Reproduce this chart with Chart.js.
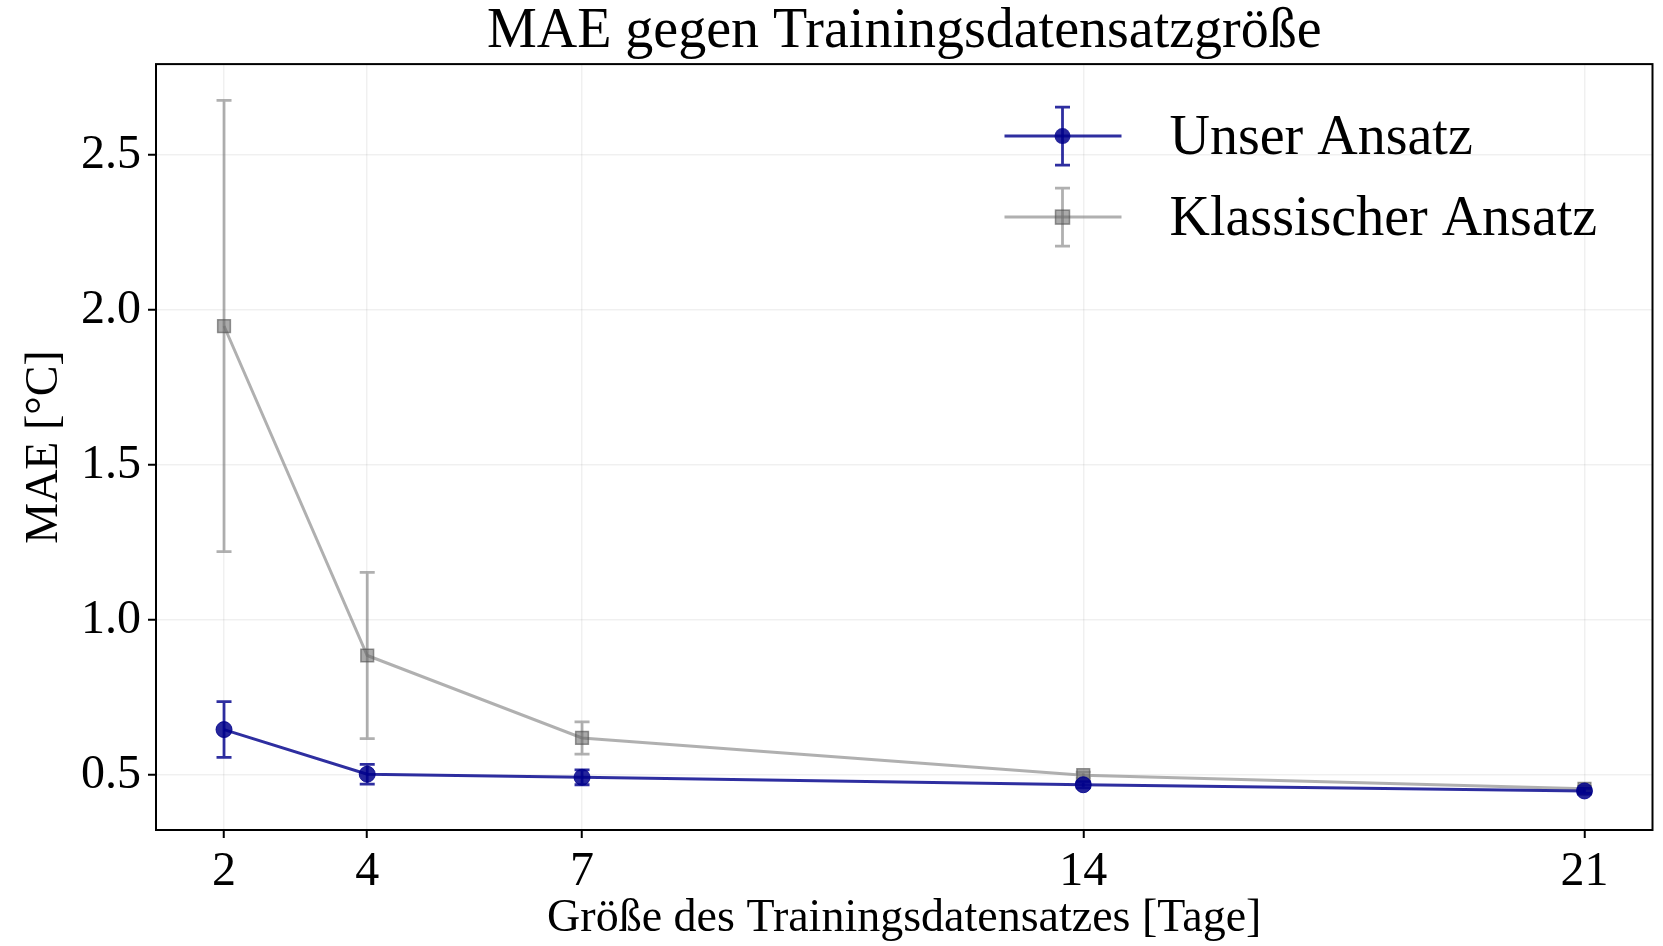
<!DOCTYPE html>
<html>
<head>
<meta charset="utf-8">
<script src="https://cdn.jsdelivr.net/npm/chart.js@4.4.1/dist/chart.umd.min.js"></script>
<style>
  html, body { margin: 0; padding: 0; background: #fff; overflow: hidden; }
  canvas { display: block; }
</style>
</head>
<body>
<canvas id="grafico" width="1663" height="946"></canvas>
<script>
// Tage im Trainingsdatensatz und MAE-Werte mit Standardabweichung
const tage = [2, 4, 7, 14, 21];
const maeUnser = [0.647, 0.503, 0.493, 0.469, 0.449];
const fehlerUnser = [0.090, 0.032, 0.024, 0.010, 0.008];
const maeKlassisch = [1.949, 0.886, 0.620, 0.500, 0.456];
const fehlerKlassisch = [0.728, 0.268, 0.052, 0.010, 0.008];
const yTicks = [0.5, 1.0, 1.5, 2.0, 2.5];

const schrift = "'Liberation Serif', 'DejaVu Serif', serif";
const blau = 'rgba(0, 0, 139, 0.82)';
const grau = 'rgba(128, 128, 128, 0.62)';

function punkte(werte) {
    return tage.map((t, i) => ({ x: t, y: werte[i] }));
}

// Fehlerbalken unter Linie und Markern zeichnen
const fehlerbalken = {
    id: 'fehlerbalken',
    beforeDatasetDraw(chart, args) {
        const ds = chart.data.datasets[args.index];
        const ctx = chart.ctx;
        const y = chart.scales.y;
        ctx.save();
        ctx.strokeStyle = ds.fehlerFarbe;
        ctx.lineWidth = 2.8;
        args.meta.data.forEach((pt, i) => {
            const wert = ds.data[i].y;
            const e = ds.fehler[i];
            const oben = y.getPixelForValue(wert + e);
            const unten = y.getPixelForValue(wert - e);
            ctx.beginPath();
            ctx.moveTo(pt.x, oben);
            ctx.lineTo(pt.x, unten);
            ctx.moveTo(pt.x - 7.5, oben);
            ctx.lineTo(pt.x + 7.5, oben);
            ctx.moveTo(pt.x - 7.5, unten);
            ctx.lineTo(pt.x + 7.5, unten);
            ctx.stroke();
        });
        ctx.restore();
    }
};

// Rahmen um den Plotbereich
const rahmen = {
    id: 'rahmen',
    afterDatasetsDraw(chart) {
        const a = chart.chartArea;
        const ctx = chart.ctx;
        ctx.save();
        ctx.strokeStyle = '#000';
        ctx.lineWidth = 2;
        ctx.strokeRect(a.left, a.top, a.right - a.left, a.bottom - a.top);
        ctx.restore();
    }
};

// Legende oben rechts mit Linie, Marker und Fehlerbalken
const legende = {
    id: 'legende',
    afterDraw(chart) {
        const ctx = chart.ctx;
        const a = chart.chartArea;
        const x0 = a.right - 648;
        const zeilen = [a.top + 72, a.top + 153];
        ctx.save();
        chart.data.datasets.forEach((ds, i) => {
            const yy = zeilen[i];
            const mx = x0 + 58;
            ctx.strokeStyle = ds.fehlerFarbe;
            ctx.lineWidth = 2.8;
            ctx.beginPath();
            ctx.moveTo(mx, yy - 29); ctx.lineTo(mx, yy + 29);
            ctx.moveTo(mx - 7.5, yy - 29); ctx.lineTo(mx + 7.5, yy - 29);
            ctx.moveTo(mx - 7.5, yy + 29); ctx.lineTo(mx + 7.5, yy + 29);
            ctx.stroke();
            ctx.strokeStyle = ds.borderColor;
            ctx.lineWidth = ds.borderWidth;
            ctx.beginPath();
            ctx.moveTo(x0, yy); ctx.lineTo(x0 + 117, yy);
            ctx.stroke();
            ctx.fillStyle = ds.pointBackgroundColor;
            ctx.strokeStyle = ds.pointBorderColor;
            ctx.lineWidth = 1.5;
            if (ds.pointStyle === 'rect') {
                ctx.fillRect(mx - 7, yy - 7, 14, 14);
                ctx.strokeRect(mx - 7, yy - 7, 14, 14);
            } else {
                ctx.beginPath();
                ctx.arc(mx, yy, 8, 0, Math.PI * 2);
                ctx.fill();
            }
            ctx.fillStyle = '#000';
            ctx.font = '56px ' + schrift;
            ctx.textBaseline = 'middle';
            ctx.fillText(ds.label, x0 + 165, yy + 3);
        });
        ctx.restore();
    }
};

new Chart(document.getElementById('grafico'), {
    type: 'line',
    data: {
        datasets: [
            {
                label: 'Unser Ansatz',
                data: punkte(maeUnser),
                fehler: fehlerUnser,
                fehlerFarbe: blau,
                borderColor: blau,
                borderWidth: 3,
                pointStyle: 'circle',
                pointRadius: 8,
                pointBackgroundColor: 'rgba(0, 0, 139, 0.85)',
                pointBorderColor: 'rgba(0, 0, 139, 0.85)',
                pointBorderWidth: 1,
                tension: 0
            },
            {
                label: 'Klassischer Ansatz',
                data: punkte(maeKlassisch),
                fehler: fehlerKlassisch,
                fehlerFarbe: grau,
                borderColor: grau,
                borderWidth: 3,
                pointStyle: 'rect',
                pointRadius: 9,
                pointBackgroundColor: 'rgba(100, 100, 100, 0.55)',
                pointBorderColor: 'rgba(80, 80, 80, 0.6)',
                pointBorderWidth: 1.5,
                tension: 0
            }
        ]
    },
    options: {
        responsive: false,
        animation: false,
        devicePixelRatio: 1,
        layout: { padding: { left: 0, right: 5, top: 0, bottom: 0 } },
        plugins: {
            legend: { display: false },
            tooltip: { enabled: false },
            title: {
                display: true,
                fullSize: false,
                text: 'MAE gegen Trainingsdatensatzgröße',
                color: '#000',
                font: { family: schrift, size: 56, weight: 'normal', lineHeight: 1.1 },
                padding: { top: 1, bottom: 1.5 }
            }
        },
        scales: {
            x: {
                type: 'linear',
                min: 1.05,
                max: 21.95,
                afterBuildTicks: (s) => { s.ticks = tage.map(v => ({ value: v })); },
                afterFit: (s) => { s.height = 116; s.paddingLeft = 0; s.paddingRight = 0; },
                ticks: {
                    color: '#000',
                    font: { family: schrift, size: 48 },
                    padding: 6,
                    maxRotation: 0,
                    autoSkip: false
                },
                grid: {
                    color: 'rgba(0, 0, 0, 0.06)',
                    lineWidth: 1.5,
                    tickColor: '#000',
                    tickLength: 8,
                    tickWidth: 2
                },
                border: { display: false },
                title: {
                    display: true,
                    text: 'Größe des Trainingsdatensatzes [Tage]',
                    color: '#000',
                    font: { family: schrift, size: 46, lineHeight: 1.1 },
                    padding: { top: 0, bottom: 2 }
                }
            },
            y: {
                min: 0.323,
                max: 2.794,
                afterBuildTicks: (s) => { s.ticks = yTicks.map(v => ({ value: v })); },
                afterFit: (s) => { s.width = 156; s.paddingTop = 0; s.paddingBottom = 0; },
                ticks: {
                    color: '#000',
                    font: { family: schrift, size: 48 },
                    padding: 7,
                    callback: (v) => v.toFixed(1)
                },
                grid: {
                    color: 'rgba(0, 0, 0, 0.06)',
                    lineWidth: 1.5,
                    tickColor: '#000',
                    tickLength: 8,
                    tickWidth: 2
                },
                border: { display: false },
                title: {
                    display: true,
                    text: 'MAE [°C]',
                    color: '#000',
                    font: { family: schrift, size: 46, lineHeight: 1.1 },
                    padding: { top: 20, bottom: 0 }
                }
            }
        }
    },
    plugins: [fehlerbalken, rahmen, legende]
});
</script>
</body>
</html>
